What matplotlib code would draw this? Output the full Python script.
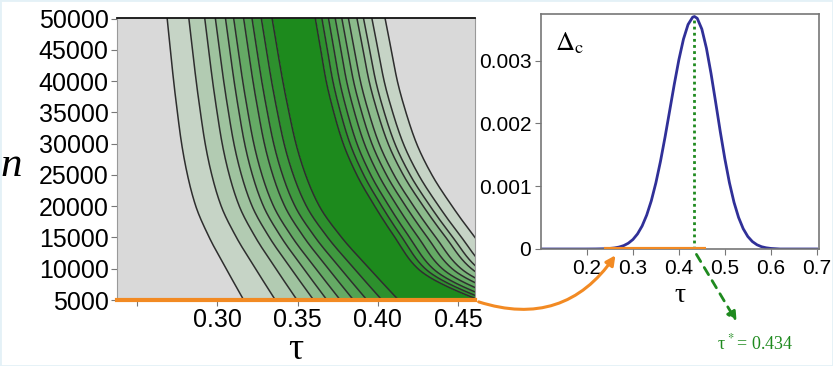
import matplotlib
matplotlib.use("Agg")
import matplotlib.pyplot as plt
import numpy as np
from matplotlib.patches import FancyArrowPatch, Rectangle

plt.rcParams['font.family'] = ['Liberation Sans', 'DejaVu Sans']
plt.rcParams['mathtext.fontset'] = 'stix'

# ---- left panel: contour boundaries ----
# tau of each boundary at the top (n=50000) and at the bottom (n=5000)
# left side, outermost -> core edge
left_top = [0.2689, 0.2824, 0.2923, 0.2989, 0.3052, 0.3103, 0.3165, 0.3217, 0.3275, 0.3342]
left_bottom = [0.3165, 0.3362, 0.3497, 0.3600, 0.3683, 0.3766, 0.3848, 0.3932, 0.4025, 0.4128]
# right side, core edge -> outermost (bottom ends lie past the right edge)
right_top = [0.3611, 0.3652, 0.3693, 0.3735, 0.3776, 0.3817, 0.3870, 0.3911, 0.3963, 0.4045]
right_bottom = [0.4629, 0.4677, 0.4730, 0.4797, 0.4870, 0.4935, 0.5006, 0.5053, 0.5109, 0.5194]
# how far along (0 at top, 1 at bottom) a boundary has moved at each n
profile_n = [50000, 45000, 40000, 35000, 30000, 25000, 20000, 15000, 10000, 5000]
left_profile = [0, 0.0418, 0.0845, 0.1334, 0.1886, 0.2651, 0.3740, 0.5503, 0.7712, 1.0]
right_profile = [0, 0.0331, 0.0663, 0.1127, 0.1706, 0.2535, 0.3629, 0.4866, 0.6273, 1.0]

band_colors = ['#c6d4c6', '#b2cbb2', '#9fc39f', '#8cbb8c', '#78b378',
               '#65aa65', '#52a252', '#3f993f', '#2d902d', '#1d8a1d']

# ---- right panel: Delta_c(tau) ----
tau_curve = [0.10, 0.20, 0.22, 0.24, 0.25, 0.26, 0.27, 0.28, 0.29, 0.30, 0.31, 0.32,
             0.33, 0.34, 0.35, 0.36, 0.37, 0.38, 0.39, 0.40, 0.41, 0.42, 0.43, 0.434,
             0.44, 0.45, 0.46, 0.47, 0.48, 0.49, 0.50, 0.51, 0.52, 0.53, 0.54, 0.55,
             0.56, 0.57, 0.58, 0.59, 0.60, 0.62, 0.70]
delta_c = [0, 0, 0.000001, 0.000004, 0.000009, 0.000017, 0.000031, 0.000054, 0.000092,
           0.000151, 0.000240, 0.000366, 0.000540, 0.000767, 0.001054, 0.001396,
           0.001785, 0.002202, 0.002621, 0.003012, 0.003340, 0.003573, 0.003690,
           0.003700, 0.003671, 0.003500, 0.003195, 0.002793, 0.002338, 0.001873,
           0.001438, 0.001056, 0.000743, 0.000501, 0.000323, 0.000199, 0.000118,
           0.000067, 0.000036, 0.000019, 0.000009, 0, 0]
tau_star = 0.434
tau_range = (0.238, 0.460)

orange = '#f28a23'
green = '#1f8a1f'
navy = '#303098'


def end_slope(h0, h1, d0, d1):
    m = ((2 * h0 + h1) * d0 - h0 * d1) / (h0 + h1)
    if np.sign(m) != np.sign(d0):
        return 0.0
    if np.sign(d0) != np.sign(d1) and abs(m) > abs(3 * d0):
        return 3 * d0
    return m


def pchip(x, y, xn):
    # monotone cubic interpolation, so the read-off points join without kinks
    x = np.asarray(x, float)
    y = np.asarray(y, float)
    h = np.diff(x)
    d = np.diff(y) / h
    m = np.zeros_like(y)
    for k in range(1, len(x) - 1):
        if d[k - 1] * d[k] > 0:
            w1 = 2 * h[k] + h[k - 1]
            w2 = h[k] + 2 * h[k - 1]
            m[k] = (w1 + w2) / (w1 / d[k - 1] + w2 / d[k])
    m[0] = end_slope(h[0], h[1], d[0], d[1])
    m[-1] = end_slope(h[-1], h[-2], d[-1], d[-2])
    idx = np.clip(np.searchsorted(x, xn) - 1, 0, len(x) - 2)
    t = (xn - x[idx]) / h[idx]
    h00 = 2 * t**3 - 3 * t**2 + 1
    h10 = t**3 - 2 * t**2 + t
    h01 = -2 * t**3 + 3 * t**2
    h11 = t**3 - t**2
    return h00 * y[idx] + h10 * h[idx] * m[idx] + h01 * y[idx + 1] + h11 * h[idx] * m[idx + 1]


fig = plt.figure(figsize=(8.33, 3.66), dpi=100)

# ------------- left contour panel -------------
ax = fig.add_axes([0.1405, 0.1803, 0.4297, 0.7705])
ax.set_facecolor('#d9d9d9')
n_fine = np.linspace(5000, 50100, 500)
pn = np.array(profile_n[::-1], dtype=float)
gl = pchip(pn, left_profile[::-1], n_fine)
gr = pchip(pn, right_profile[::-1], n_fine)
bounds = [t0 + (t1 - t0) * gl for t0, t1 in zip(left_top, left_bottom)]
bounds += [t0 + (t1 - t0) * gr for t0, t1 in zip(right_top, right_bottom)]
colors = band_colors[:-1] + [band_colors[-1]] + band_colors[-2::-1]
for i in range(len(bounds) - 1):
    ax.fill_betweenx(n_fine, bounds[i], bounds[i + 1], color=colors[i], lw=0)
for b in bounds:
    ax.plot(b, n_fine, color='#2e2e2e', lw=1.1)

ax.set_xlim(0.2377, 0.4604)
ax.set_ylim(5000, 50100)
ax.set_xticks([0.25, 0.30, 0.35, 0.40, 0.45])
ax.set_xticklabels(['', '0.30', '0.35', '0.40', '0.45'])
ax.set_yticks(np.arange(5000, 50001, 5000))
ax.tick_params(labelsize=18, length=4, color='#777777', pad=2)
for s in ['left', 'right']:
    ax.spines[s].set_color('#999999')
ax.spines['top'].set_color('#111111')
ax.spines['top'].set_linewidth(1.3)
ax.spines['bottom'].set_color(orange)
ax.spines['bottom'].set_linewidth(3)
ax.set_xlabel('τ', family='Liberation Serif', fontsize=27, labelpad=0)
ax.set_ylabel('n', family='Liberation Serif', style='italic', fontsize=31,
              rotation=0, va='center', ha='center')
ax.yaxis.set_label_coords(-0.295, 0.475)

# ------------- right Delta_c panel -------------
ax2 = fig.add_axes([0.6495, 0.3197, 0.3337, 0.6420])
ax2.plot(tau_curve, delta_c, color=navy, lw=2)
ax2.plot([tau_star, tau_star], [0, max(delta_c)], color=green, lw=2, ls=(0, (1, 1.2)))
ax2.plot(tau_range, [0, 0], color=orange, lw=3, solid_capstyle='butt', zorder=5)
ax2.set_xlim(0.1, 0.705)
ax2.set_ylim(0, 0.00374)
ax2.set_xticks([0.2, 0.3, 0.4, 0.5, 0.6, 0.7])
ax2.set_xticklabels(['0.2', '0.3', '0.4', '0.5', '0.6', '0.7'])
ax2.set_yticks([0, 0.001, 0.002, 0.003])
ax2.set_yticklabels(['0', '0.001', '0.002', '0.003'])
ax2.tick_params(labelsize=15, length=4, color='#777777', pad=3)
for s in ax2.spines.values():
    s.set_color('#777777')
    s.set_linewidth(1.2)
ax2.set_xlabel('τ', family='Liberation Serif', fontsize=20, labelpad=4)
ax2.text(0.05, 0.93, r'$\Delta_{\mathrm{c}}$', transform=ax2.transAxes,
         fontsize=19, va='top', ha='left')

# ------------- arrows and annotation -------------
def fxy(px, py):
    return (px / 833, 1 - py / 366)

fig.patches.append(FancyArrowPatch(fxy(476, 301), fxy(617, 253), transform=fig.transFigure,
                                   connectionstyle='arc3,rad=0.38', arrowstyle='-|>',
                                   mutation_scale=14, color=orange, lw=2.2))
fig.patches.append(FancyArrowPatch(fxy(695, 252), fxy(738, 324), transform=fig.transFigure,
                                   arrowstyle='-|>', mutation_scale=14, color=green,
                                   lw=2, ls=(0, (3, 2.5))))
fig.text(*fxy(717, 343), 'τ$^{\\,*}$= 0.434', color=green, fontsize=13,
         family='Liberation Serif', va='center', ha='left')

fig.patches.append(Rectangle((0, 0), 1, 1, transform=fig.transFigure, fill=False,
                             edgecolor='#e4f1f7', lw=2))

fig.savefig('out.png', dpi=100)
